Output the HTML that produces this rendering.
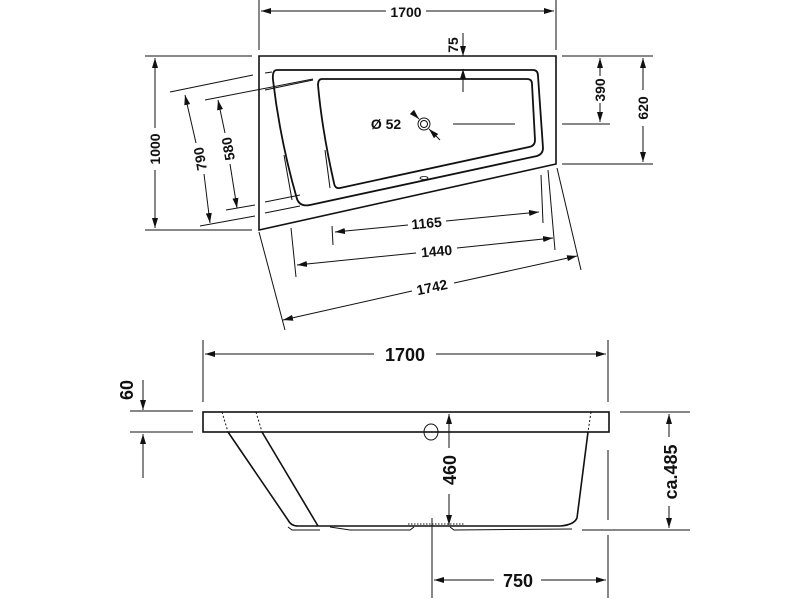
<!DOCTYPE html>
<html><head><meta charset="utf-8"><style>
html,body{margin:0;padding:0;background:#fff;width:800px;height:600px;overflow:hidden}
text{font-family:"Liberation Sans",sans-serif;font-weight:bold;fill:#111}
</style></head><body>
<svg width="800" height="600" viewBox="0 0 800 600" xmlns="http://www.w3.org/2000/svg">
<defs>
<marker id="a" viewBox="0 0 10 6" refX="10" refY="3" markerWidth="10" markerHeight="6" orient="auto-start-reverse" markerUnits="userSpaceOnUse"><path d="M0,0L10,3L0,6z" fill="#111"/></marker>
</defs>
<g stroke="#111" fill="none" stroke-width="1">
<polygon points="259,56 556,56 556,164 259,230" stroke-width="1.6"/>
<path d="M277,70 L533,70 Q538,70 538,76 L543,148 Q543,154 537,156 L310,205 Q300,207 297,199 Q280,140 273,80 Q272,70 277,70Z" stroke-width="1.8"/>
<path d="M322,79 L527,79 Q532,79 532,84 L535,140 Q535,146 529,147 L340,188 Q335,189 334,183 Q322,130 318,85 Q318,79 322,79Z" stroke-width="1.8"/>
<circle cx="424" cy="124" r="6"/><circle cx="424" cy="124" r="3.5"/>
<line x1="412" y1="112" x2="419" y2="119" marker-end="url(#a)"/>
<line x1="440" y1="140" x2="429" y2="129" marker-end="url(#a)"/>
<line x1="453" y1="124" x2="515" y2="124"/>
<ellipse cx="424" cy="178" rx="4" ry="1.5" stroke-width="0.8"/>
<line x1="259" y1="0" x2="259" y2="50"/><line x1="556" y1="0" x2="556" y2="50"/>
<line x1="261" y1="11" x2="386" y2="11" marker-start="url(#a)"/><line x1="426" y1="11" x2="554" y2="11" marker-end="url(#a)"/>
<line x1="463" y1="33" x2="463" y2="56" marker-end="url(#a)"/>
<line x1="463" y1="92" x2="463" y2="69" marker-end="url(#a)"/>
<line x1="562" y1="56" x2="653" y2="56"/><line x1="562" y1="124" x2="610" y2="124"/><line x1="562" y1="164" x2="653" y2="164"/>
<line x1="600" y1="76" x2="600" y2="58" marker-end="url(#a)"/><line x1="600" y1="103" x2="600" y2="122" marker-end="url(#a)"/>
<line x1="643" y1="90" x2="643" y2="58" marker-end="url(#a)"/><line x1="643" y1="126" x2="643" y2="162" marker-end="url(#a)"/>
<line x1="145" y1="56" x2="252" y2="56"/><line x1="145" y1="230" x2="252" y2="230"/>
<line x1="155" y1="128" x2="155" y2="58" marker-end="url(#a)"/><line x1="155" y1="170" x2="155" y2="228" marker-end="url(#a)"/>
<line x1="170" y1="92" x2="253" y2="75"/><line x1="200" y1="226" x2="255" y2="216"/>
<line x1="205" y1="100" x2="313" y2="79"/><line x1="226" y1="210" x2="255" y2="205"/>
<line x1="265" y1="73" x2="272" y2="72"/><line x1="265" y1="90" x2="313" y2="80"/>
<line x1="265" y1="202" x2="300" y2="195"/><line x1="265" y1="213" x2="300" y2="206"/>
<line x1="185" y1="95" x2="196" y2="143" marker-start="url(#a)"/><line x1="204" y1="174" x2="210" y2="223" marker-end="url(#a)"/>
<line x1="218" y1="100" x2="225" y2="133" marker-start="url(#a)"/><line x1="230" y1="164" x2="237" y2="208" marker-end="url(#a)"/>
<line x1="284" y1="155" x2="292" y2="200"/><line x1="325" y1="150" x2="330" y2="188"/>
<line x1="332" y1="226" x2="333" y2="245"/><line x1="541" y1="175" x2="543" y2="223"/>
<line x1="291" y1="228" x2="296" y2="277"/><line x1="548" y1="170" x2="555" y2="250"/>
<line x1="259" y1="232" x2="285" y2="330"/><line x1="557" y1="168" x2="581" y2="270"/>
<line x1="335" y1="232" x2="408" y2="225" marker-start="url(#a)"/><line x1="446" y1="221" x2="539" y2="212" marker-end="url(#a)"/>
<line x1="297" y1="265" x2="416" y2="253" marker-start="url(#a)"/><line x1="457" y1="248" x2="553" y2="238" marker-end="url(#a)"/>
<line x1="283" y1="320" x2="412" y2="291" marker-start="url(#a)"/><line x1="454" y1="283" x2="577" y2="256" marker-end="url(#a)"/>
<rect x="203" y="412" width="406" height="20" stroke-width="1.6"/>
<path d="M228,432 L288,520 Q291,526 298,526 L318,526 M262,432 L318,526 L560,526 Q574,525 577,518 L588,432" stroke-width="1.6"/>
<path d="M288,527 L292,530 L320,530 M330,527 L350,530 L410,530 L414,527 M450,527 L454,530 L572,529" stroke-width="1"/>
<line x1="222" y1="412" x2="228" y2="432" stroke-dasharray="2,2"/>
<line x1="256" y1="412" x2="262" y2="432" stroke-dasharray="2,2"/>
<line x1="591" y1="412" x2="588" y2="432" stroke-dasharray="2,2"/>
<line x1="408" y1="524" x2="465" y2="524" stroke-dasharray="1.5,1.5"/>
<ellipse cx="431" cy="432" rx="7" ry="8"/>
<line x1="203" y1="340" x2="203" y2="402"/><line x1="608" y1="340" x2="608" y2="402"/>
<line x1="205" y1="354" x2="374" y2="354" marker-start="url(#a)"/><line x1="436" y1="354" x2="606" y2="354" marker-end="url(#a)"/>
<line x1="130" y1="411" x2="193" y2="411"/><line x1="130" y1="432" x2="193" y2="432"/>
<line x1="143" y1="380" x2="143" y2="410" marker-end="url(#a)"/><line x1="143" y1="478" x2="143" y2="434" marker-end="url(#a)"/>
<line x1="449" y1="448" x2="449" y2="414" marker-end="url(#a)"/><line x1="449" y1="494" x2="449" y2="525" marker-end="url(#a)"/>
<line x1="620" y1="412" x2="690" y2="412"/><line x1="582" y1="530" x2="690" y2="530"/>
<line x1="669" y1="437" x2="669" y2="414" marker-end="url(#a)"/><line x1="669" y1="506" x2="669" y2="528" marker-end="url(#a)"/>
<line x1="608" y1="450" x2="608" y2="520"/><line x1="608" y1="535" x2="608" y2="598"/>
<line x1="432" y1="518" x2="432" y2="598"/>
<line x1="434" y1="580" x2="494" y2="580" marker-start="url(#a)"/><line x1="541" y1="580" x2="606" y2="580" marker-end="url(#a)"/>
</g>
<g font-size="14">
<text x="406" y="17" text-anchor="middle">1700</text>
<text x="0" y="0" transform="translate(458,45) rotate(-90)" text-anchor="middle">75</text>
<text x="0" y="0" transform="translate(605,90) rotate(-90)" text-anchor="middle">390</text>
<text x="0" y="0" transform="translate(648,108) rotate(-90)" text-anchor="middle">620</text>
<text x="0" y="0" transform="translate(160,149) rotate(-90)" text-anchor="middle">1000</text>
<text x="0" y="0" transform="translate(205,158) rotate(-100)" text-anchor="middle">790</text>
<text x="0" y="0" transform="translate(233,148) rotate(-100)" text-anchor="middle">580</text>
<text x="386" y="129" text-anchor="middle">Ø 52</text>
<text x="0" y="0" transform="translate(427,228) rotate(-5)" text-anchor="middle">1165</text>
<text x="0" y="0" transform="translate(437,256) rotate(-5)" text-anchor="middle">1440</text>
<text x="0" y="0" transform="translate(433,292) rotate(-12)" text-anchor="middle">1742</text>
</g>
<g font-size="18">
<text x="405" y="361" text-anchor="middle">1700</text>
<text x="0" y="0" transform="translate(133,390) rotate(-90)" text-anchor="middle">60</text>
<text x="0" y="0" transform="translate(456,470) rotate(-90)" text-anchor="middle">460</text>
<text x="0" y="0" transform="translate(677,472) rotate(-90)" text-anchor="middle">ca.485</text>
<text x="518" y="587" text-anchor="middle">750</text>
</g>
</svg>
</body></html>
